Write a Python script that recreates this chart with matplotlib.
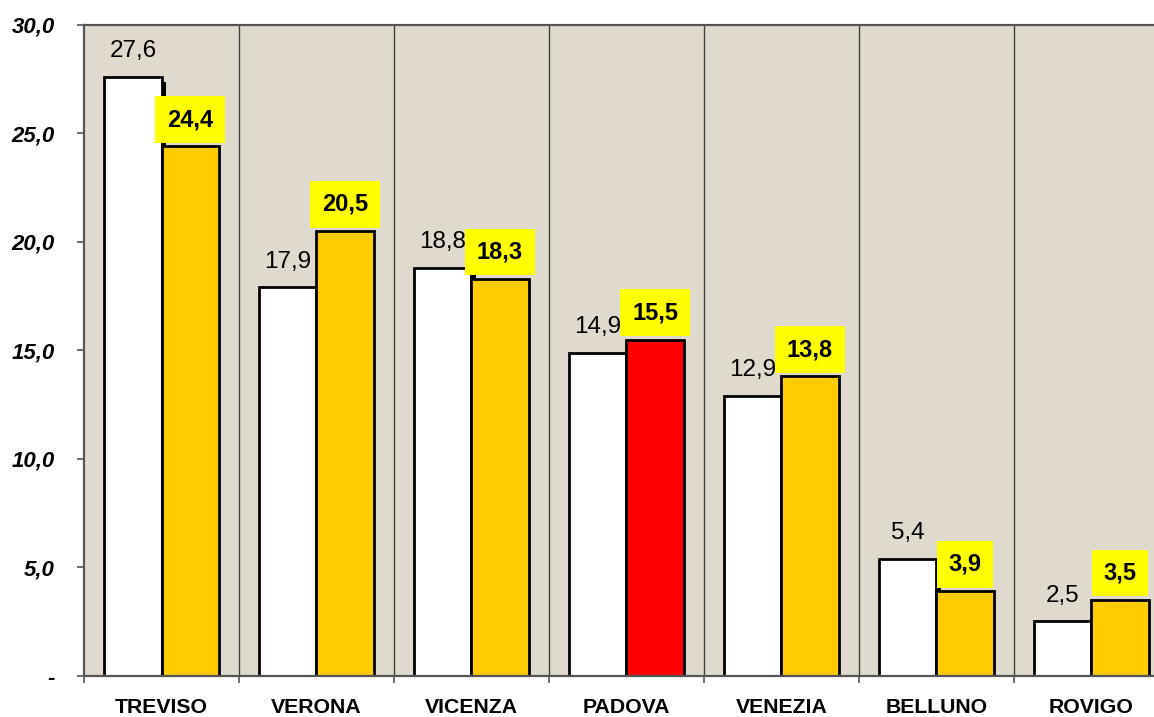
import matplotlib
matplotlib.use("Agg")
import matplotlib.pyplot as plt
import matplotlib.patheffects as pe
import numpy as np

categories = ["TREVISO", "VERONA", "VICENZA", "PADOVA", "VENEZIA", "BELLUNO", "ROVIGO"]
values_white = [27.6, 17.9, 18.8, 14.9, 12.9, 5.4, 2.5]
values_orange = [24.4, 20.5, 18.3, 15.5, 13.8, 3.9, 3.5]
orange_colors = ["#FFCC00", "#FFCC00", "#FFCC00", "#FF0000", "#FFCC00", "#FFCC00", "#FFCC00"]
yticks = [0, 5, 10, 15, 20, 25, 30]
ytick_labels = ["-", "5,0", "10,0", "15,0", "20,0", "25,0", "30,0"]

plt.rcParams['font.family'] = ['Liberation Sans', 'DejaVu Sans']

fig = plt.figure(figsize=(11.54, 7.17), dpi=100)
ax = fig.add_axes([84/1154, 41.3/717, 1085/1154, 650.7/717])
ax.set_facecolor("#E0D9CD")

x = np.arange(len(categories))
w = 0.368

wb = ax.bar(x - w/2, values_white, width=w, color="white", edgecolor="black",
            linewidth=2.0, zorder=3)
for p in wb:
    p.set_path_effects([pe.SimplePatchShadow(offset=(3.5, -3.5), shadow_rgbFace="black", alpha=1.0), pe.Normal()])
ob = ax.bar(x + w/2, values_orange, width=w, color=orange_colors, edgecolor="black",
            linewidth=2.0, zorder=4)

for xi, v in zip(x, values_white):
    ax.annotate(f"{v:.1f}".replace(".", ","), (xi - w/2, v), xytext=(0, 10.5),
                textcoords="offset points", ha="center", va="bottom",
                fontsize=17.5, zorder=5)
for xi, v in zip(x, values_orange):
    ax.annotate(f"{v:.1f}".replace(".", ","), (xi + w/2, v), xytext=(0, 11),
                textcoords="offset points", ha="center", va="bottom",
                fontsize=17, fontweight="bold", zorder=6,
                bbox=dict(boxstyle="square,pad=0.5", facecolor="#FFFF00", edgecolor="none"))

ax.set_xlim(-0.5, len(categories) - 0.5)
ax.set_ylim(0, 30)

# vertical separators
for b in np.arange(0.5, len(categories) - 0.5, 1):
    ax.axvline(b, color="#404040", linewidth=1.0, zorder=1)

ax.set_yticks(yticks)
ax.set_yticklabels(ytick_labels, fontsize=16, fontweight="bold", fontstyle="italic")
ax.tick_params(axis="y", direction="out", length=5, width=1.2, color="#555555", pad=16)

ax.set_xticks(x)
ax.set_xticklabels(categories, fontsize=15.3, fontweight="bold")
ax.tick_params(axis="x", which="major", length=0, pad=16)
ax.set_xticks(np.arange(-0.5, len(categories), 1), minor=True)
ax.tick_params(axis="x", which="minor", direction="out", length=5, width=1.2, color="#555555")

ax.spines["right"].set_visible(False)
for s in ["left", "bottom", "top"]:
    ax.spines[s].set_color("#555555")
    ax.spines[s].set_linewidth(1.6)
ax.spines["bottom"].set_zorder(7)

fig.savefig("out.png", dpi=100)
